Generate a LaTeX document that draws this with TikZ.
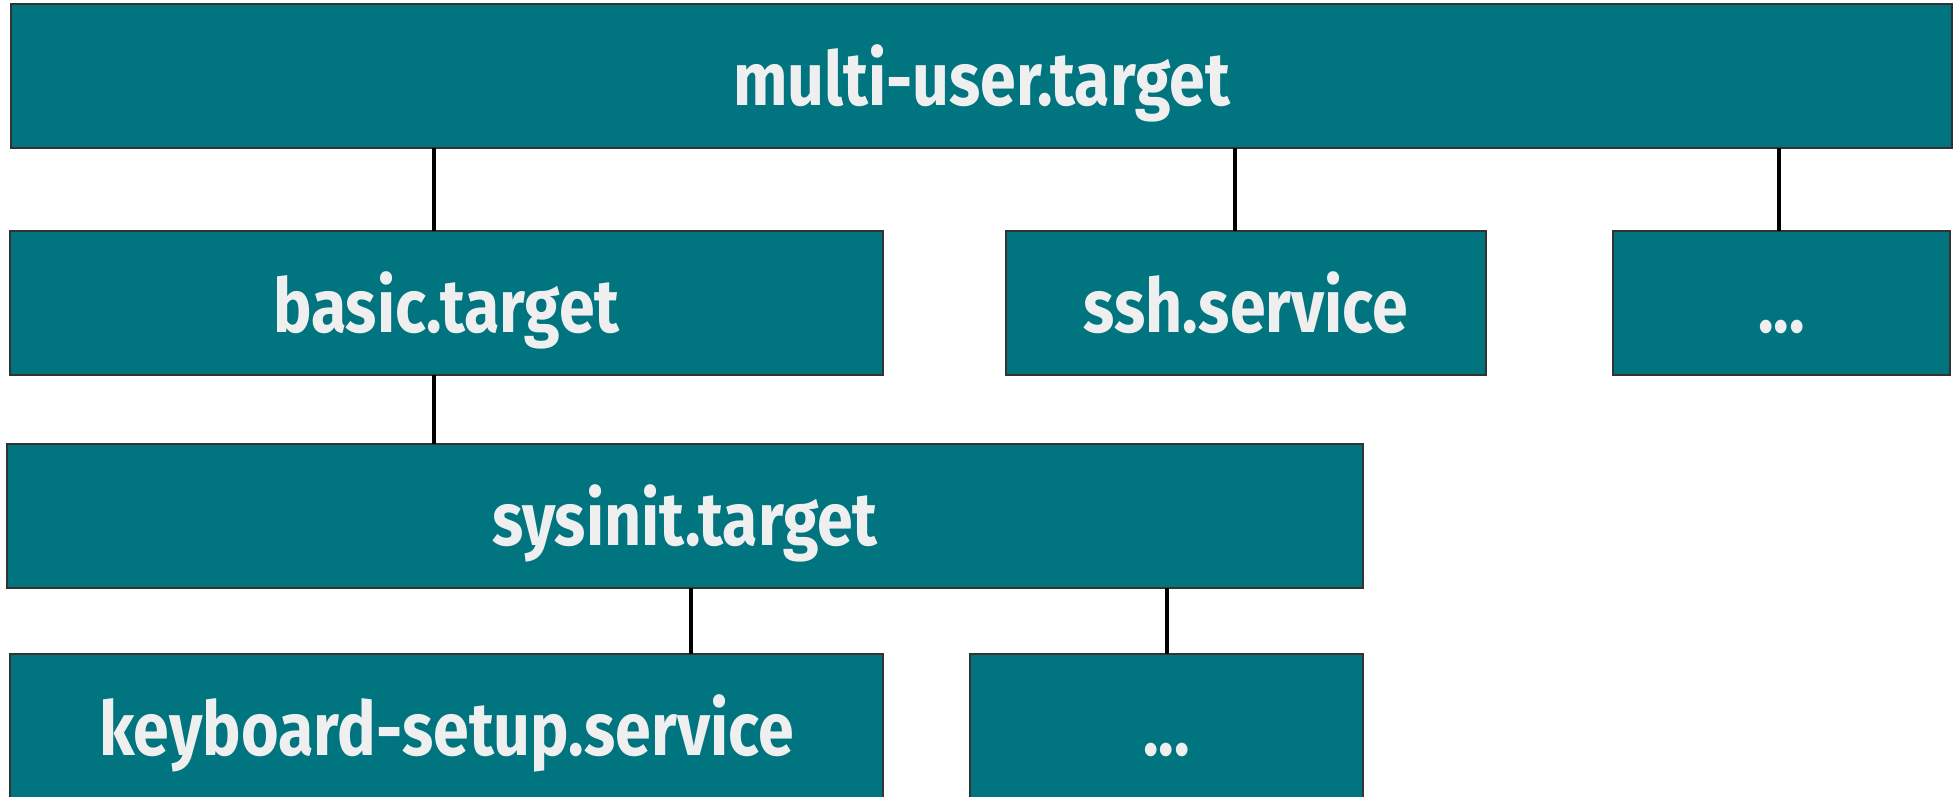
\documentclass[tikz,border=0pt]{standalone}
\usepackage{fontspec}
\setmainfont{Fira Sans Bold}[FakeStretch=0.86]
\begin{document}
\begin{tikzpicture}[x=1pt,y=-1pt,
  unit/.style={draw=black!80, line width=1.2pt, fill=unitfill, text=unittext,
    font=\fontsize{75}{82}\selectfont, inner sep=0pt, outer sep=0pt,
    text height=58pt, text depth=0pt},
  link/.style={line width=4pt, draw=black}]
\definecolor{unitfill}{HTML}{00747F}
\definecolor{unittext}{HTML}{EFEFEF}
\useasboundingbox (0,0) rectangle (1960,796);
% top row
\node[unit, minimum width=1941, minimum height=144] (multi) at (981.5,76) {multi-user.target};
% second row
\node[unit, minimum width=873, minimum height=144] (basic) at (446.5,303) {basic.target};
\node[unit, minimum width=480, minimum height=144] (ssh) at (1246,303) {ssh.service};
\node[unit, minimum width=337, minimum height=144] (more1) at (1781.5,303) {...};
% third row
\node[unit, minimum width=1356, minimum height=144] (sysinit) at (685,516) {sysinit.target};
% bottom row
\node[unit, minimum width=873, minimum height=144] (kbd) at (446.5,726) {keyboard-setup.service};
\node[unit, minimum width=393, minimum height=144] (more2) at (1166.5,726) {...};
% dependency links
\draw[link] ([xshift=-12.5]basic.north) -- ([xshift=-12.5]basic.north |- multi.south);
\draw[link] ([xshift=-11]ssh.north) -- ([xshift=-11]ssh.north |- multi.south);
\draw[link] ([xshift=-2.5]more1.north) -- ([xshift=-2.5]more1.north |- multi.south);
\draw[link] ([xshift=-12.5]basic.south) -- ([xshift=-12.5]basic.south |- sysinit.north);
\draw[link] ([xshift=6]sysinit.south) -- ([xshift=6]sysinit.south |- kbd.north);
\draw[link] (more2.north) -- (more2.north |- sysinit.south);
\end{tikzpicture}
\end{document}
